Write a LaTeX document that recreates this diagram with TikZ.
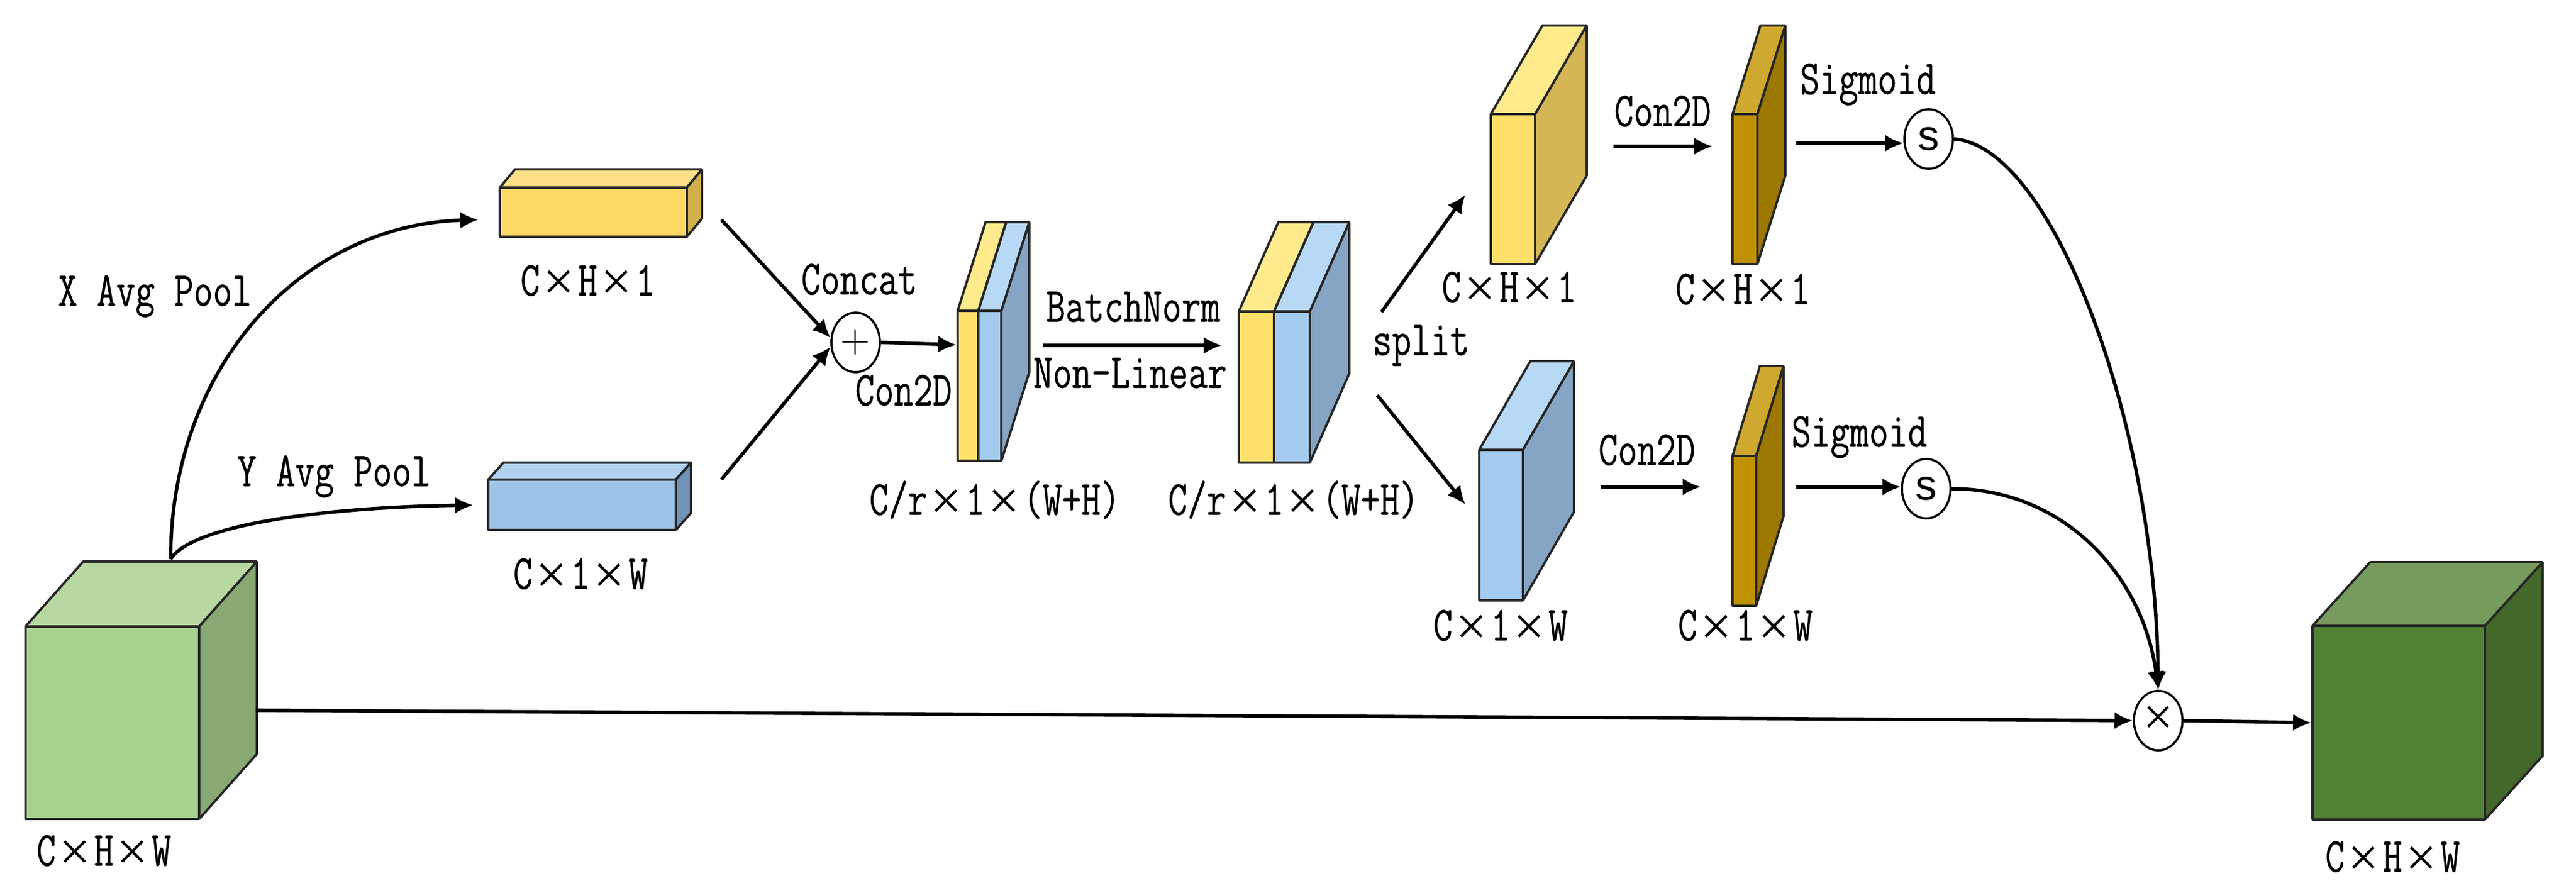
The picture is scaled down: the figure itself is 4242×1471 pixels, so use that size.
\documentclass[tikz,border=0pt]{standalone}
\usepackage{fontspec}
\usepackage{tikz}
\usetikzlibrary{arrows.meta,shapes.geometric}
\newfontfamily\tagfont[FakeStretch=0.765,FakeBold=0.4]{Latin Modern Mono}
\newfontfamily\crossfont{Liberation Serif}
\newfontfamily\signfont{Liberation Sans}
% colours of the blocks: front, top, side
\definecolor{greenfront}{HTML}{A9D18E}
\definecolor{greentop}{HTML}{B8D8A2}
\definecolor{greenside}{HTML}{88A972}
\definecolor{darkfront}{HTML}{548235}
\definecolor{darktop}{HTML}{769B5C}
\definecolor{darkside}{HTML}{43682A}
\definecolor{sandfront}{HTML}{FFD966}
\definecolor{sandtop}{HTML}{FFE088}
\definecolor{sandside}{HTML}{CFB04A}
\definecolor{lemonfront}{HTML}{FFE06A}
\definecolor{lemontop}{HTML}{FFEA8C}
\definecolor{lemonside}{HTML}{D4B655}
\definecolor{skyfront}{HTML}{9DC3E6}
\definecolor{skytop}{HTML}{B0D0EE}
\definecolor{skyside}{HTML}{7092B6}
\definecolor{paleskyfront}{HTML}{A3CBF0}
\definecolor{paleskytop}{HTML}{B8D9F6}
\definecolor{paleskyside}{HTML}{86A5C4}
\definecolor{goldfront}{HTML}{BF9000}
\definecolor{goldtop}{HTML}{CFA82F}
\definecolor{goldside}{HTML}{9C7800}
\newcommand\tm{\makebox[0.63cm]{\raisebox{-0.07cm}{\crossfont\fontsize{26pt}{26pt}\selectfont ×}}}
% name, left, top, right, bottom, depth x, depth y, colour
\newcommand\block[8]{
    \draw[face,fill=#8top] (#2,#3) -- (#2+#6,#3-#7) -- (#4+#6,#3-#7) -- (#4,#3) -- cycle;
    \draw[face,fill=#8side] (#4,#3) -- (#4+#6,#3-#7) -- (#4+#6,#5-#7) -- (#4,#5) -- cycle;
    \node[face,fill=#8front,inner sep=0pt,minimum width={(#4-#2)*0.01cm},minimum height={(#5-#3)*0.01cm}]
        (#1) at ({(#2+#4)/2},{(#3+#5)/2}) {};
}
\begin{document}
\begin{tikzpicture}[
        x=0.01cm, y=-0.01cm,
        face/.style={draw=black!85, line width=1.1pt, line join=bevel},
        flow/.style={line width=1.6pt, -{Latex[length=0.3cm,width=0.28cm]}},
        tag/.style={font=\tagfont\fontsize{23pt}{23pt}\selectfont, inner sep=0pt, text height=0.48cm, text depth=0pt},
        joint/.style={ellipse, draw=black, line width=1pt, fill=white, inner sep=0pt, minimum width=0.8cm, minimum height=0.98cm}
    ]
    \useasboundingbox (0,0) rectangle (4242,1471);

    % Input and output
    \block{cubeIn}{42}{1032}{328}{1349}{95}{107}{green}
    \block{cubeOut}{3808}{1031}{4092}{1350}{95}{105}{dark}

    % Pooled features
    \block{poolX}{823}{309}{1131}{390}{25}{30}{sand}
    \block{poolY}{804}{790}{1113}{873}{25}{28}{sky}

    % Concatenated features
    \block{stackAy}{1577}{512}{1611}{759}{46}{146}{lemon}
    \block{stackAb}{1611}{512}{1649}{759}{46}{146}{palesky}
    \block{stackBy}{2040}{513}{2098}{762}{65}{147}{lemon}
    \block{stackBb}{2098}{513}{2157}{762}{65}{147}{palesky}

    % Split features
    \block{splitX}{2455}{188}{2528}{435}{85}{146}{lemon}
    \block{splitY}{2436}{741}{2508}{989}{84}{146}{palesky}
    \block{convX}{2853}{188}{2894}{435}{46}{146}{gold}
    \block{convY}{2853}{751}{2892}{998}{45}{148}{gold}

    % Joints
    \node[joint] (plus) at (1409,564) {\fontsize{19pt}{19pt}\selectfont +};
    \node[joint] (sigX) at (3176,229) {\signfont\fontsize{20pt}{20pt}\selectfont s};
    \node[joint] (sigY) at (3172,805) {\signfont\fontsize{20pt}{20pt}\selectfont s};
    \node[joint] (mul) at (3554,1187) {\crossfont\fontsize{25pt}{25pt}\selectfont ×};

    % Free ends of the arrows
    \coordinate (srcTop) at (281,921);
    \coordinate (srcSide) at (421,1170);
    \coordinate (xEnd) at (788,362);
    \coordinate (yEnd) at (779,832);
    \coordinate (xOut) at (1188,362);
    \coordinate (yOut) at (1188,790);
    \coordinate (stackIn) at (1575,568);
    \coordinate (normIn) at (1717,569);
    \coordinate (normOut) at (2012,569);
    \coordinate (upIn) at (2275,514);
    \coordinate (upOut) at (2413,321);
    \coordinate (downIn) at (2268,651);
    \coordinate (downOut) at (2413,831);
    \coordinate (convXin) at (2657,241);
    \coordinate (convXout) at (2820,241);
    \coordinate (convYin) at (2636,802);
    \coordinate (convYout) at (2801,802);
    \coordinate (sigXin) at (2958,236);
    \coordinate (sigYin) at (2958,802);

    % Arrows
    \draw[flow] (srcTop) .. controls (281,600) and (500,370) .. (xEnd);
    \draw[flow] (srcTop) .. controls (320,860) and (560,835) .. (yEnd);
    \draw[flow] (xOut) -- (plus.170);
    \draw[flow] (yOut) -- (plus.190);
    \draw[flow] (plus.east) -- (stackIn);
    \draw[flow] (normIn) -- (normOut);
    \draw[flow] (upIn) -- (upOut);
    \draw[flow] (downIn) -- (downOut);
    \draw[flow] (convXin) -- (convXout);
    \draw[flow] (convYin) -- (convYout);
    \draw[flow] (sigXin) -- (sigX.west |- sigXin);
    \draw[flow] (sigYin) -- (sigY.west |- sigYin);
    \draw[flow] (sigX.east) .. controls (3380,240) and (3550,700) .. (mul.north);
    \draw[flow] (sigY.east) .. controls (3400,805) and (3530,950) .. (mul.north);
    \draw[flow] (srcSide) -- (mul.west);
    \draw[flow] (mul.east) -- (cubeOut.west);

    % Texts
    \node[tag] (txtX) at (255,480) {X Avg Pool};
    \node[tag] (txtY) at (550,777) {Y Avg Pool};
    \node[tag] (dimIn) at (171,1402) {C\tm H\tm W};
    \node[tag] (dimPx) at (968,463) {C\tm H\tm 1};
    \node[tag] (dimPy) at (956,946) {C\tm 1\tm W};
    \node[tag] (txtCat) at (1415,461) {Concat};
    \node[tag] (txtConvA) at (1488,644) {Con2D};
    \node[tag] (txtNorm) at (1866,506) {BatchNorm};
    \node[tag] (txtAct) at (1861,615) {Non-Linear};
    \node[tag] (dimSa) at (1638,824) {C/r\tm 1\tm (W+H)};
    \node[tag] (dimSb) at (2130,824) {C/r\tm 1\tm (W+H)};
    \node[tag] (txtSplit) at (2340,561) {split};
    \node[tag] (dimSx) at (2485,474) {C\tm H\tm 1};
    \node[tag] (dimSy) at (2471,1031) {C\tm 1\tm W};
    \node[tag] (txtConvX) at (2738,184) {Con2D};
    \node[tag] (txtConvY) at (2712,742) {Con2D};
    \node[tag] (dimCx) at (2870,477) {C\tm H\tm 1};
    \node[tag] (dimCy) at (2874,1031) {C\tm 1\tm W};
    \node[tag] (txtSigX) at (3076,131) {Sigmoid};
    \node[tag] (txtSigY) at (3062,712) {Sigmoid};
    \node[tag] (dimOut) at (3940,1412) {C\tm H\tm W};
\end{tikzpicture}
\end{document}
